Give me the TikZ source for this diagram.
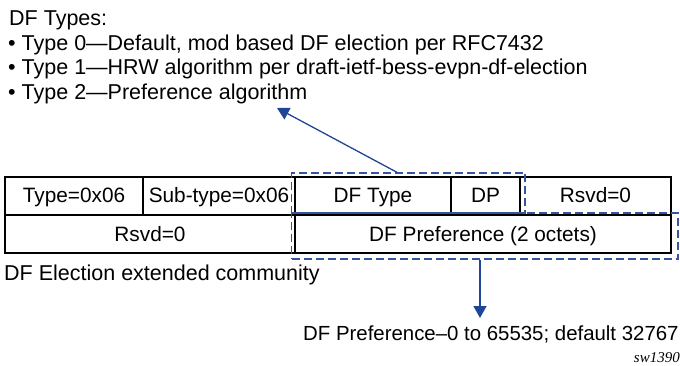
\documentclass[tikz,border=0pt]{standalone}
\usepackage{fontspec}
\setmainfont{Liberation Sans}
\newfontfamily\swfont{Liberation Serif}
\usetikzlibrary{arrows.meta}
\definecolor{dashblue}{RGB}{52,86,160}
\definecolor{arrblue}{RGB}{31,70,150}
\begin{document}
\begin{tikzpicture}[x=1pt,y=-1pt,
  txt/.style={inner sep=0pt, font=\fontsize{21.5}{25}\selectfont},
  cell/.style={draw=black, line width=2.6pt, inner sep=0pt, text height=14pt, text depth=0pt, font=\fontsize{20.8}{25}\selectfont},
  dbox/.style={draw=dashblue, line width=1.3pt, dash pattern=on 8pt off 4pt, inner sep=0pt},
  conn/.style={draw=arrblue, line width=1.3pt, -{Triangle[length=12pt,width=13pt]}}]
\useasboundingbox (0,0) rectangle (680,366);
% header text
\node[txt, anchor=base west] (h0) at (9,26) {DF Types:};
\node[txt, anchor=base west] (h1) at (8,50.5) {• Type 0—Default, mod based DF election per RFC7432};
\node[txt, anchor=base west] (h2) at (8,75) {• Type 1—HRW algorithm per draft-ietf-bess-evpn-df-election};
\node[txt, anchor=base west] (h3) at (8,99.5) {• Type 2—Preference algorithm};
% table row 1
\node[cell, minimum width=138pt, minimum height=38pt] (c1) at (74,196) {Type=0x06};
\node[cell, minimum width=152pt, minimum height=38pt] (c2) at (219,196) {Sub-type=0x06};
\node[cell, minimum width=156pt, minimum height=38pt] (c3) at (373,196) {DF Type};
\node[cell, minimum width=69pt, minimum height=38pt] (c4) at (485.5,196) {DP};
\node[cell, minimum width=151pt, minimum height=38pt] (c5) at (595.5,196) {Rsvd=0};
% table row 2
\node[cell, minimum width=290pt, minimum height=38pt] (d1) at (150,234) {Rsvd=0};
\node[cell, minimum width=376pt, minimum height=38pt] (d2) at (483,234) {DF Preference (2 octets)};
% dashed boxes
\node[dbox, minimum width=233.5pt, minimum height=40pt] (db1) at (408.25,193) {};
\node[dbox, minimum width=386.5pt, minimum height=46pt] (db2) at (484.75,236) {};
% captions
\node[txt, anchor=base west] (cap) at (4,280.5) {DF Election extended community};
\node[txt, anchor=base west, font=\fontsize{20.4}{24}\selectfont] (pref) at (303,340) {DF Preference–0 to 65535; default 32767};
\node[inner sep=0pt, anchor=base east, font=\swfont\itshape\fontsize{15}{18}\selectfont] (sw) at (680,362) {sw1390};
% connectors
\coordinate (t1) at (277,108);
\coordinate (t2) at (480,318);
\draw[conn] (db1.north -| 397,0) -- (t1);
\draw[conn] (db2.south -| 480,0) -- (t2);
\end{tikzpicture}
\end{document}
